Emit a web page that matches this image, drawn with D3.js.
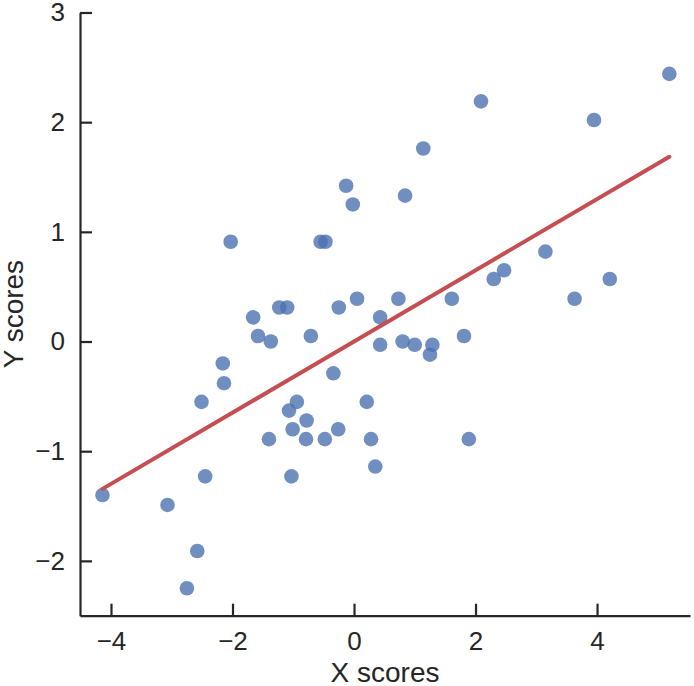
<!DOCTYPE html>
<html>
<head>
<meta charset="utf-8">
<script src="https://cdn.jsdelivr.net/npm/d3@7"></script>
<style>
  html, body { margin: 0; padding: 0; background: #fff; }
  svg { display: block; }
  text { font-family: "Liberation Sans", Arial, Helvetica, sans-serif; fill: #262626; }
</style>
</head>
<body>
<svg id="chart" width="694" height="686"></svg>
<script>
// Data
const xScores = [-4.14,-3.07,-2.58,-2.75,-2.51,-2.45,-2.14,-2.16,-2.03,-1.66,
  -1.58,-1.37,-1.23,-1.10,-0.71,-1.40,-1.03,-1.07,-0.94,-1.01,
  -0.78,-0.79,-0.48,-0.26,-0.34,-0.25,-0.55,-0.47,-0.13,-0.02,
  0.05,0.43,0.43,0.21,0.28,0.35,0.73,0.80,1.00,1.29,
  1.25,0.84,1.14,1.61,1.81,1.89,2.09,2.30,2.47,3.15,
  3.63,3.95,4.21,5.19];
const yScores = [-1.40,-1.49,-1.91,-2.25,-0.55,-1.23,-0.38,-0.20,0.91,0.22,
  0.05,0.00,0.31,0.31,0.05,-0.89,-1.23,-0.63,-0.55,-0.80,
  -0.72,-0.89,-0.89,-0.80,-0.29,0.31,0.91,0.91,1.42,1.25,
  0.39,0.22,-0.03,-0.55,-0.89,-1.14,0.39,0.00,-0.03,-0.03,
  -0.12,1.33,1.76,0.39,0.05,-0.89,2.19,0.57,0.65,0.82,
  0.39,2.02,0.57,2.44];
const xTicks = [-4, -2, 0, 2, 4];
const yTicks = [-2, -1, 0, 1, 2, 3];
const xDomain = [-4.51, 5.53];
const yDomain = [-2.5, 3.0];
const xLabel = "X scores";
const yLabel = "Y scores";

(function () {
const points = xScores.map((v, i) => ({ x: v, y: yScores[i] }));

const svg = d3.select("#chart");
const mLeft = 80, mRight = 690, mTop = 12.5, mBottom = 615.7;

const x = d3.scaleLinear().domain(xDomain).range([mLeft, mRight]);
const y = d3.scaleLinear().domain(yDomain).range([mBottom, mTop]);

// least-squares fit
const mx = d3.mean(xScores), my = d3.mean(yScores);
const sxy = d3.sum(points, p => (p.x - mx) * (p.y - my));
const sxx = d3.sum(points, p => (p.x - mx) * (p.x - mx));
const slope = sxy / sxx, intercept = my - slope * mx;
const [xmin, xmax] = d3.extent(xScores);
const fit = [xmin, xmax].map(v => ({ x: v, y: intercept + slope * v }));

// points
svg.append("g")
  .selectAll("circle")
  .data(points)
  .join("circle")
  .attr("cx", d => x(d.x))
  .attr("cy", d => y(d.y))
  .attr("r", 7.3)
  .attr("fill", "#4c72b0")
  .attr("fill-opacity", 0.8);

// regression line
svg.append("path")
  .datum(fit)
  .attr("d", d3.line().x(d => x(d.x)).y(d => y(d.y)))
  .attr("stroke", "#c44e52")
  .attr("stroke-width", 4)
  .attr("stroke-linecap", "round")
  .attr("fill", "none");

// axes
const gx = svg.append("g")
  .attr("transform", `translate(0,${mBottom})`)
  .call(d3.axisBottom(x).tickValues(xTicks).tickFormat(d3.format("")).tickSizeInner(-12).tickSizeOuter(0).tickPadding(16));
const gy = svg.append("g")
  .attr("transform", `translate(${mLeft},0)`)
  .call(d3.axisLeft(y).tickValues(yTicks).tickFormat(d3.format("")).tickSizeInner(-12).tickSizeOuter(0).tickPadding(15));

[gx, gy].forEach(g => {
  g.select(".domain").attr("stroke", "#262626").attr("stroke-width", 2.2);
  g.selectAll(".tick line").attr("stroke", "#262626").attr("stroke-width", 2.2);
  g.selectAll(".tick text").attr("font-size", 26).attr("fill", "#262626")
    .style("font-family", '"Liberation Sans", Arial, sans-serif');
});

svg.append("text")
  .attr("x", (mLeft + mRight) / 2)
  .attr("y", 682)
  .attr("text-anchor", "middle")
  .attr("font-size", 28)
  .text(xLabel);

svg.append("text")
  .attr("transform", `translate(23,${(mTop + mBottom) / 2}) rotate(-90)`)
  .attr("text-anchor", "middle")
  .attr("font-size", 28)
  .text(yLabel);
})();
</script>
</body>
</html>
